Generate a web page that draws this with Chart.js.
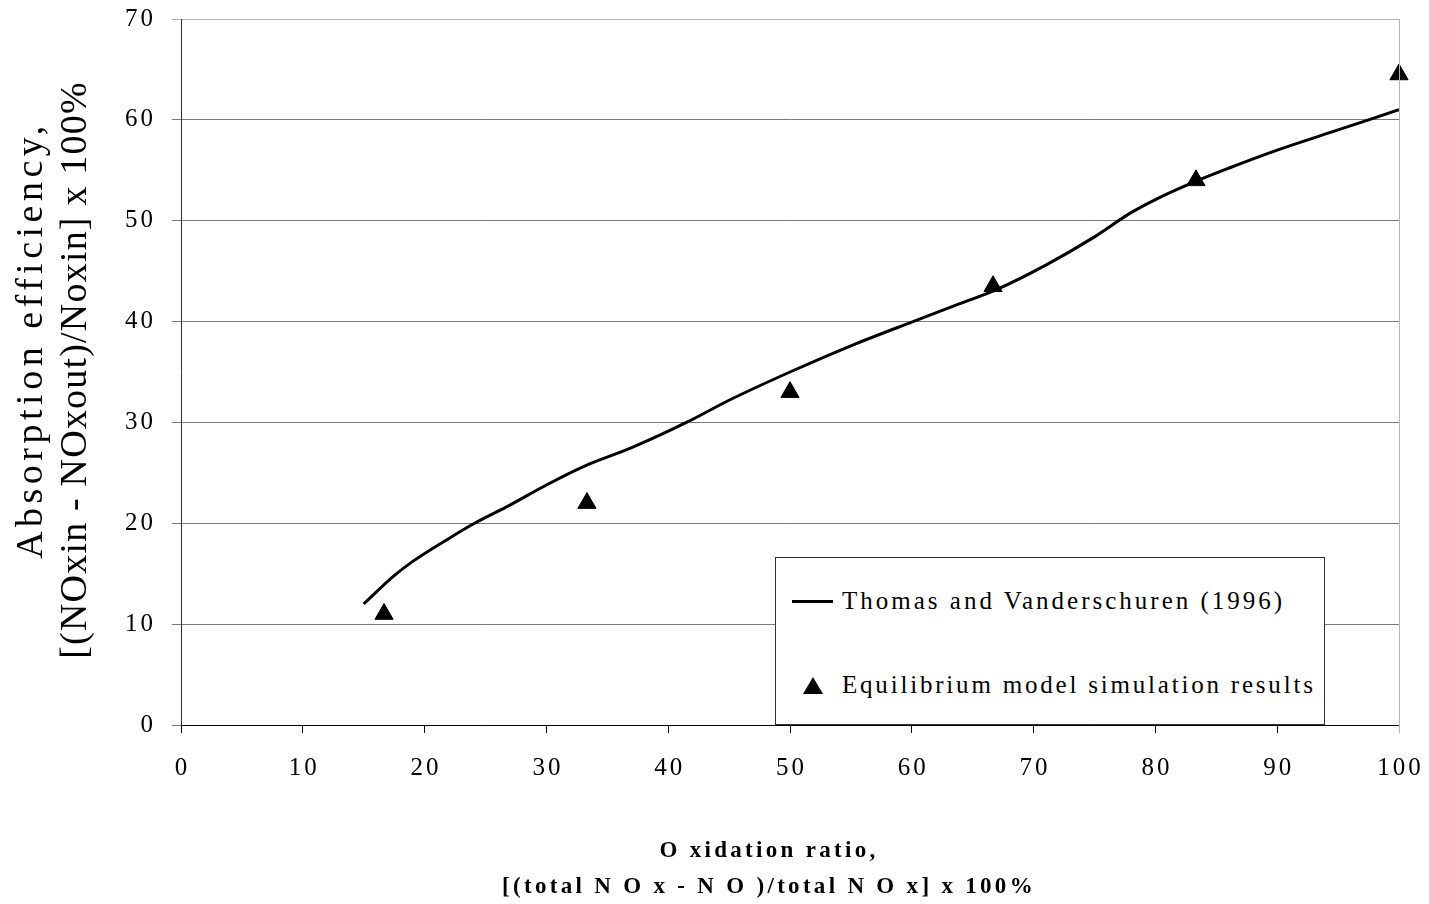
<!DOCTYPE html>
<html>
<head>
<meta charset="utf-8">
<script src="https://cdn.jsdelivr.net/npm/chart.js@4/dist/chart.umd.min.js"></script>
<style>
  body{margin:0;background:#fff;font-family:'Liberation Serif','Times New Roman',serif;}
  #wrap{position:relative;width:1429px;height:904px;}
  .ytl{position:absolute;transform:translate(-50%,-50%) rotate(-90deg);white-space:nowrap;
    font-size:38px;line-height:42px;color:#000;}
  #xTitle{position:absolute;left:769px;top:832px;transform:translateX(-50%);white-space:nowrap;
    text-align:center;font-size:23px;font-weight:bold;letter-spacing:3.3px;line-height:36px;color:#000;}
  #legend{position:absolute;left:775px;top:557px;width:550px;height:168px;border:1px solid #333;
    background:#fff;box-sizing:border-box;font-size:25px;letter-spacing:3px;color:#000;}
  .row{position:absolute;left:0;display:flex;align-items:center;white-space:nowrap;}
  .line{width:41px;height:3px;background:#000;margin-left:16px;margin-right:9px;}
  .tri{width:0;height:0;border-left:10px solid transparent;border-right:10px solid transparent;
    border-bottom:17px solid #000;margin-left:27px;margin-right:19px;}
</style>
</head>
<body>
<div id="wrap">
  <canvas id="chart"></canvas>
  <div class="ytl" style="left:29px;top:340px;letter-spacing:4.5px">Absorption efficiency,</div>
  <div class="ytl" style="left:73px;top:370px;letter-spacing:1.2px">[(NOxin - NOxout)/Noxin] x 100%</div>
  <div id="xTitle">O xidation ratio,<br>[(total N O x - N O )/total N O x] x 100%</div>
  <div id="legend">
    <div class="row" style="top:29px"><span class="line"></span>Thomas and Vanderschuren (1996)</div>
    <div class="row" style="top:113px;letter-spacing:2.8px"><span class="tri"></span>Equilibrium model simulation results</div>
  </div>
</div>
<script>
// Thomas and Vanderschuren (1996) correlation
const corrX = [15, 17.5, 19, 22, 24.1, 27, 30, 33, 37, 41.5, 45, 50, 55, 60.1, 64, 67, 71, 75, 78, 80, 83.3, 86, 90, 95, 100];
const corrY = [12, 14.8, 16.2, 18.5, 20, 21.8, 23.8, 25.6, 27.5, 30, 32.2, 35, 37.6, 40, 41.8, 43.2, 45.6, 48.4, 50.8, 52.1, 53.9, 55.2, 57, 59, 61];
// equilibrium model points
const simX = [16.67, 33.33, 50, 66.67, 83.33, 100];
const simY = [11, 22, 33, 43.5, 54, 64.5];
const xTicks = [0, 10, 20, 30, 40, 50, 60, 70, 80, 90, 100];
const yTicks = [0, 10, 20, 30, 40, 50, 60, 70];

const tickFont = "25px 'Liberation Serif', 'Times New Roman', serif";
const gap = 3;

// spaced-out tick labels and the light right frame line
const axisText = {
  id: 'axisText',
  afterDraw(chart){
    const {ctx, chartArea:a, scales} = chart;
    ctx.save();
    ctx.strokeStyle = '#b4b4b4';
    ctx.lineWidth = 1;
    ctx.beginPath();
    ctx.moveTo(a.right + 0.5, a.top);
    ctx.lineTo(a.right + 0.5, a.bottom + 8);
    ctx.stroke();

    ctx.font = tickFont;
    ctx.letterSpacing = gap + 'px';
    ctx.fillStyle = '#000';
    ctx.textBaseline = 'middle';
    ctx.textAlign = 'center';
    xTicks.forEach(v=>{
      ctx.fillText(String(v), scales.x.getPixelForValue(v) + gap/2, a.bottom + 43);
    });
    ctx.textAlign = 'right';
    yTicks.forEach(v=>{
      ctx.fillText(String(v), a.left - 28 + gap, scales.y.getPixelForValue(v));
    });
    ctx.restore();
  }
};

new Chart(document.getElementById('chart'), {
  type:'scatter',
  data:{
    datasets:[
      {
        type:'line',
        data:corrX.map((x,i)=>({x, y:corrY[i]})),
        borderColor:'#000', borderWidth:3, pointRadius:0,
        cubicInterpolationMode:'monotone', fill:false
      },
      {
        data:simX.map((x,i)=>({x, y:simY[i]})),
        pointStyle:'triangle', pointRadius:10.5, borderWidth:1,
        backgroundColor:'#000', borderColor:'#000', clip:false
      }
    ]
  },
  options:{
    responsive:true, maintainAspectRatio:false, animation:false,
    layout:{padding:{top:19, right:30, left:0, bottom:0}},
    plugins:{legend:{display:false}, tooltip:{enabled:false}},
    scales:{
      x:{
        type:'linear', min:0, max:100,
        afterBuildTicks(s){ s.ticks = xTicks.map(v=>({value:v})); },
        afterFit(s){ s.height = 179; },
        grid:{drawOnChartArea:false, tickLength:8, color:'#000'},
        border:{color:'#000', width:1},
        ticks:{display:false}
      },
      y:{
        type:'linear', min:0, max:70,
        afterBuildTicks(s){ s.ticks = yTicks.map(v=>({value:v})); },
        afterFit(s){ s.width = 181; },
        grid:{
          tickLength:9,
          color:c=>c.tick && c.tick.value === 70 ? '#b4b4b4' : '#7a7a7a'
        },
        border:{color:'#333', width:1},
        ticks:{display:false}
      }
    }
  },
  plugins:[axisText]
});
</script>
</body>
</html>
